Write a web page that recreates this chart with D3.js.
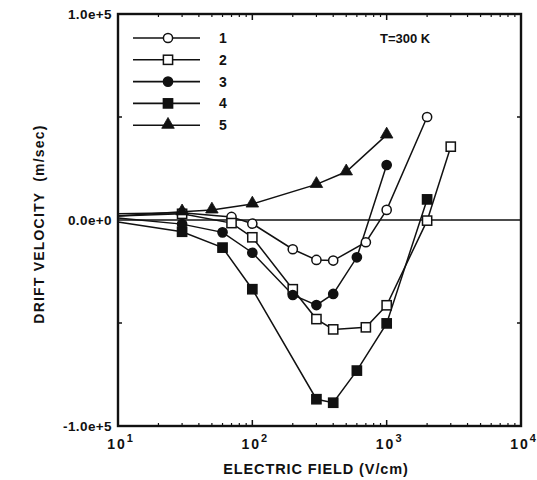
<!DOCTYPE html>
<html><head><meta charset="utf-8">
<script src="https://cdn.jsdelivr.net/npm/d3@7/dist/d3.min.js"></script>
<style>body{margin:0;background:#fff}svg{display:block}text{font-family:"Liberation Sans",Arial,sans-serif;font-weight:bold;fill:#111}</style>
</head><body><svg id="c" width="537" height="480"></svg>
<script>
// Electric field (V/cm) and drift velocity (m/sec)
const field1 = [10, 30, 70, 100, 200, 300, 400, 700, 1000, 2000];
const vel1   = [3000, 3500, 1500, -1800, -14200, -19400, -19700, -10800, 4900, 50000];
const field2 = [10, 30, 70, 100, 200, 300, 400, 700, 1000, 2000, 3000];
const vel2   = [2000, 3000, -1500, -8400, -33600, -48100, -53100, -52100, -41400, -300, 35600];
const field3 = [10, 30, 60, 100, 200, 300, 400, 600, 1000];
const vel3   = [1000, -2000, -6000, -15900, -36400, -41300, -35900, -18100, 26700];
const field4 = [10, 30, 60, 100, 300, 400, 600, 1000, 2000];
const vel4   = [-1000, -5700, -13400, -33600, -87000, -88700, -73100, -50200, 10000];
const field5 = [10, 30, 50, 100, 300, 500, 1000];
const vel5   = [2000, 4000, 4900, 7800, 17300, 23400, 41300];
const seriesNames = ["1", "2", "3", "4", "5"];
const markers = ["circleOpen", "squareOpen", "circleFilled", "squareFilled", "triangle"];
const xTicks = [10, 100, 1000, 10000];
const yTickLabels = ["1.0e+5", "0.0e+0", "-1.0e+5"];
const yTickValues = [100000, 0, -100000];
const annotation = "T=300 K";

const svg = d3.select("#c");
const L = 118, R = 521, T = 14, B = 426;
const x = d3.scaleLog().domain([10, 10000]).range([L, R]);
const y = d3.scaleLinear().domain([-100000, 100000]).range([B, T]);

const series = [
  {f: field1, v: vel1}, {f: field2, v: vel2}, {f: field3, v: vel3},
  {f: field4, v: vel4}, {f: field5, v: vel5}
];

// zero line
svg.append("line").attr("x1", L).attr("x2", R).attr("y1", y(0)).attr("y2", y(0))
  .attr("stroke", "#111").attr("stroke-width", 1.6);

// minor ticks (inside) on bottom and top
const minor = [];
for (let d = 10; d < 10000; d *= 10) for (let k = 2; k <= 9; k++) minor.push(d * k);
const g = svg.append("g");
minor.forEach(m => {
  g.append("line").attr("x1", x(m)).attr("x2", x(m)).attr("y1", B).attr("y2", B - 3).attr("stroke", "#111").attr("stroke-width", 1.2);
  g.append("line").attr("x1", x(m)).attr("x2", x(m)).attr("y1", T).attr("y2", T + 3).attr("stroke", "#111").attr("stroke-width", 1.2);
});
xTicks.forEach(m => {
  g.append("line").attr("x1", x(m)).attr("x2", x(m)).attr("y1", B).attr("y2", B - 6).attr("stroke", "#111").attr("stroke-width", 1.5);
  g.append("line").attr("x1", x(m)).attr("x2", x(m)).attr("y1", T).attr("y2", T + 6).attr("stroke", "#111").attr("stroke-width", 1.5);
});
[-50000, 50000].forEach(v => {
  g.append("line").attr("x1", L).attr("x2", L + 4).attr("y1", y(v)).attr("y2", y(v)).attr("stroke", "#111").attr("stroke-width", 1.5);
  g.append("line").attr("x1", R).attr("x2", R - 4).attr("y1", y(v)).attr("y2", y(v)).attr("stroke", "#111").attr("stroke-width", 1.5);
});

// frame
svg.append("rect").attr("x", L).attr("y", T).attr("width", R - L).attr("height", B - T)
  .attr("fill", "none").attr("stroke", "#111").attr("stroke-width", 2.4);

function drawMarker(sel, type, cx, cy) {
  if (type === "circleOpen" || type === "circleFilled") {
    sel.append("circle").attr("cx", cx).attr("cy", cy).attr("r", 4.6)
      .attr("fill", type === "circleOpen" ? "#fff" : "#111").attr("stroke", "#111").attr("stroke-width", 1.5);
  } else if (type === "squareOpen" || type === "squareFilled") {
    sel.append("rect").attr("x", cx - 4.6).attr("y", cy - 4.6).attr("width", 9.2).attr("height", 9.2)
      .attr("fill", type === "squareOpen" ? "#fff" : "#111").attr("stroke", "#111").attr("stroke-width", 1.5);
  } else {
    sel.append("path").attr("d", d3.symbol().type(d3.symbolTriangle).size(68)()).attr("transform", `translate(${cx},${cy - 0.5})`)
      .attr("fill", "#111").attr("stroke", "#111").attr("stroke-width", 0.8);
  }
}

const line = d3.line().x(d => x(d[0])).y(d => y(d[1]));
const plot = svg.append("g");
series.forEach((s, i) => {
  const pts = s.f.map((f, j) => [f, s.v[j]]);
  plot.append("path").attr("d", line(pts)).attr("fill", "none").attr("stroke", "#111").attr("stroke-width", 1.5);
});
series.forEach((s, i) => {
  s.f.forEach((f, j) => { if (f > 10) drawMarker(plot, markers[i], x(f), y(s.v[j])); });
});

// legend
const lg = svg.append("g");
seriesNames.forEach((n, i) => {
  const ly = 38 + i * 21.8;
  lg.append("line").attr("x1", 133).attr("x2", 200).attr("y1", ly).attr("y2", ly).attr("stroke", "#111").attr("stroke-width", 1.6);
  drawMarker(lg, markers[i], 168, ly);
  lg.append("text").attr("x", 219).attr("y", ly + 5).attr("font-size", 14).text(n);
});
svg.append("text").attr("x", 380).attr("y", 43).attr("font-size", 13).text(annotation);

// y tick labels
yTickValues.forEach((v, i) => {
  svg.append("text").attr("x", 112).attr("y", y(v) + 5).attr("text-anchor", "end")
    .attr("font-size", 13.5).attr("letter-spacing", 0.4).text(yTickLabels[i]);
});
// x tick labels with superscripts
xTicks.forEach(m => {
  const t = svg.append("text").attr("x", x(m) + 2).attr("y", 449).attr("text-anchor", "middle")
    .attr("font-size", 14).attr("letter-spacing", 2);
  t.append("tspan").text("10");
  t.append("tspan").attr("dy", -7).attr("font-size", 11).attr("letter-spacing", 0).text(String(Math.round(Math.log10(m))));
});

// axis titles
svg.append("text").attr("x", 316).attr("y", 474).attr("text-anchor", "middle").attr("font-size", 14.5)
  .attr("letter-spacing", 0.9).text("ELECTRIC FIELD (V/cm)");
svg.append("text").attr("transform", `translate(44,${(T + B) / 2 + 4}) rotate(-90)`).attr("text-anchor", "middle")
  .attr("font-size", 14).attr("letter-spacing", 1.2).attr("xml:space", "preserve").text("DRIFT VELOCITY  (m/sec)");
</script></body></html>
